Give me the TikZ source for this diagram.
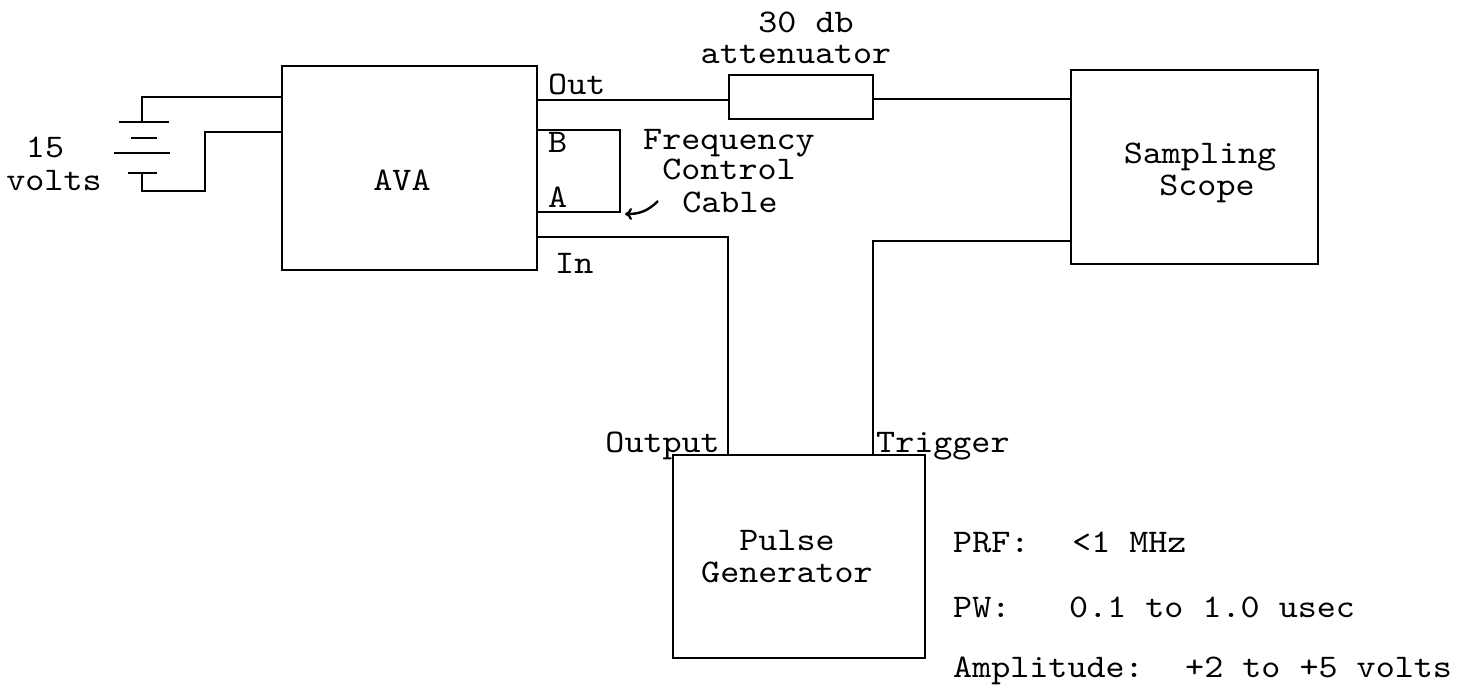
\documentclass[tikz,border=0pt]{standalone}
\usepackage{fontspec}
\usetikzlibrary{arrows.meta}
\newfontfamily\typewr{lmmono10-regular}[Extension=.otf, FakeStretch=1.1]
\begin{document}
\begin{tikzpicture}[x=1pt,y=-1pt,
  wire/.style={line width=2.7pt, line cap=rect},
  box/.style={draw, line width=2.7pt, inner sep=0pt},
  lbl/.style={font=\typewr\fontsize{33}{36}\selectfont, inner sep=0pt}]
\useasboundingbox (0,0) rectangle (1473,691);
% boxes
\node[box, minimum width=255pt, minimum height=204pt] (ava) at (409.5,168) {};
\node[box, minimum width=144pt, minimum height=44pt] (att) at (801,97) {};
\node[box, minimum width=247pt, minimum height=194pt] (scope) at (1194.5,167) {};
\node[box, minimum width=252pt, minimum height=203pt] (pg) at (799,556.5) {};
% box texts
\node[lbl, anchor=base] (avat) at (402,190) {AVA};
\node[lbl, anchor=base] (scopet1) at (1200,163) {Sampling};
\node[lbl, anchor=base] (scopet2) at (1207,195) {Scope};
\node[lbl, anchor=base] (pgt1) at (787,550) {Pulse};
\node[lbl, anchor=base] (pgt2) at (787,582) {Generator};
% battery
\coordinate (bt1) at (142,122);
\coordinate (bt2) at (142,173);
\coordinate (bb) at (205,191);
\coordinate (p1l) at (120,122); \coordinate (p1r) at (168,122);
\coordinate (p2l) at (132,138); \coordinate (p2r) at (156,138);
\coordinate (p3l) at (115,153); \coordinate (p3r) at (169,153);
\coordinate (p4l) at (129,173); \coordinate (p4r) at (156,173);
\draw[wire] (p1l) -- (p1r);
\draw[wire] (p2l) -- (p2r);
\draw[wire] (p3l) -- (p3r);
\draw[wire] (p4l) -- (p4r);
\draw[wire] (ava.west |- 0,97) -| (bt1);
\draw[wire] (bt2) |- (bb) |- (ava.west |- 0,132);
\node[lbl, anchor=base] (v15) at (45,157) {15};
\node[lbl, anchor=base] (volts) at (54,190) {volts};
% out -> attenuator -> scope
\draw[wire] (ava.east |- 0,100) -- (att.west |- 0,100);
\draw[wire] (att.east |- 0,99) -- (scope.west |- 0,99);
\node[lbl, anchor=base west] (outl) at (548,94) {Out};
\node[lbl, anchor=base] (att1) at (806,32) {30 db};
\node[lbl, anchor=base] (att2) at (796,63) {attenuator};
% frequency control loop
\coordinate (lpb) at (620,212);
\draw[wire] (ava.east |- 0,130) -| (lpb) -- (ava.east |- lpb);
\node[lbl, anchor=base west] (bl) at (548,152) {B};
\node[lbl, anchor=base west] (al) at (548,207) {A};
\node[lbl, anchor=base] (fc1) at (729,149) {Frequency};
\node[lbl, anchor=base] (fc2) at (729,179) {Control};
\node[lbl, anchor=base] (fc3) at (730,212) {Cable};
\coordinate (arrs) at (658,201);
\coordinate (arre) at (625,214);
\draw[line width=2.4pt, -{To[length=7pt,width=12pt,line width=2.2pt]}] (arrs) .. controls (647,212) and (638,214) .. (arre);
% input from pulse generator
\coordinate (inc) at (728,237);
\draw[wire] (ava.east |- inc) -- (inc) -- (pg.north -| inc);
\node[lbl, anchor=base west] (inl) at (555,273) {In};
% trigger to scope
\coordinate (trc) at (873,241);
\draw[wire] (pg.north -| trc) -- (trc) -- (scope.west |- trc);
\node[lbl, anchor=base east] (outpl) at (720,452) {Output};
\node[lbl, anchor=base west] (trl) at (876,452) {Trigger};
% specs
\node[lbl, anchor=base west] (prf) at (953,552) {PRF:};
\node[lbl, anchor=base west] (prfv) at (1072,552) {<1 MHz};
\node[lbl, anchor=base west] (pw) at (953,617) {PW:};
\node[lbl, anchor=base west] (pwv) at (1069,617) {0.1 to 1.0 usec};
\node[lbl, anchor=base west] (amp) at (953,677) {Amplitude:};
\node[lbl, anchor=base west] (ampv) at (1185,677) {+2 to +5 volts};
\end{tikzpicture}
\end{document}
